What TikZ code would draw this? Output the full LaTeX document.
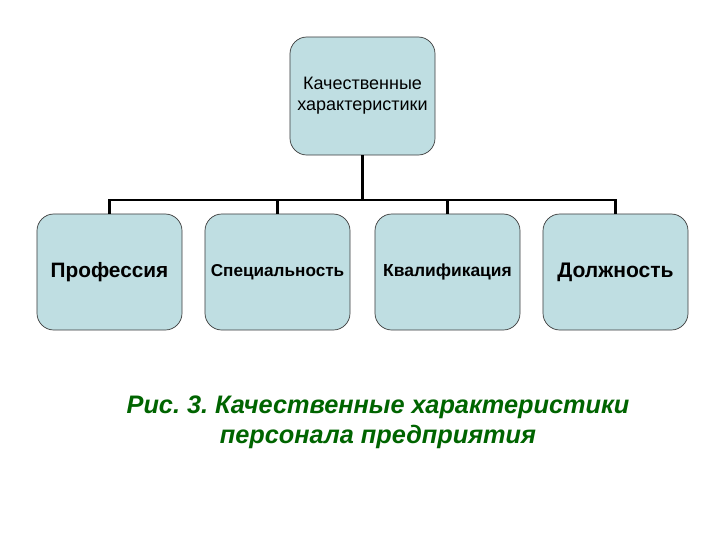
\documentclass[tikz,border=0pt]{standalone}
\usepackage{fontspec}
\setmainfont{Liberation Sans}
\definecolor{boxfill}{RGB}{191,222,226}
\definecolor{boxline}{RGB}{60,60,60}
\definecolor{capgreen}{RGB}{0,100,0}
\usetikzlibrary{positioning}

\begin{document}
\begin{tikzpicture}[x=0.025cm, y=-0.025cm,
    unit/.style={draw=boxline, line width=0.5pt, fill=boxfill, rounded corners=12pt,
      minimum width=3.625cm, minimum height=2.9cm, align=center, inner sep=1pt},
    link/.style={line width=1.8pt, black}]
  \useasboundingbox (0,0) rectangle (720,540);

  % Top box
  \node[unit, minimum height=2.95cm, font=\fontsize{12.8}{15}\selectfont] (top) at (362.5,96)
    {Качественные\\характеристики};

  % Bottom boxes
  \node[unit, font=\fontsize{14.8}{17}\selectfont\bfseries] (prof) at (109.5,272) {Профессия};
  \node[unit, font=\fontsize{12.2}{14}\selectfont\bfseries] (spec) at (277.5,272) {Специальность};
  \node[unit, font=\fontsize{12.4}{14}\selectfont\bfseries] (kval) at (447.5,272) {Квалификация};
  \node[unit, font=\fontsize{15}{17}\selectfont\bfseries] (dolzh) at (615.5,272) {Должность};

  % Connectors
  \coordinate (bus) at (362.5,200);
  \draw[link] (top.south) -- (bus);
  \draw[link] (prof.north) -- (prof.north |- bus) -- (dolzh.north |- bus) -- (dolzh.north);
  \draw[link] (spec.north) -- (spec.north |- bus);
  \draw[link] (kval.north) -- (kval.north |- bus);

  % Caption
  \node[font=\fontsize{18}{21.5}\selectfont\bfseries\itshape, text=capgreen, align=center] (cap)
    at (378,422) {\frenchspacing Рис. 3. Качественные характеристики\\персонала предприятия};
\end{tikzpicture}
\end{document}
